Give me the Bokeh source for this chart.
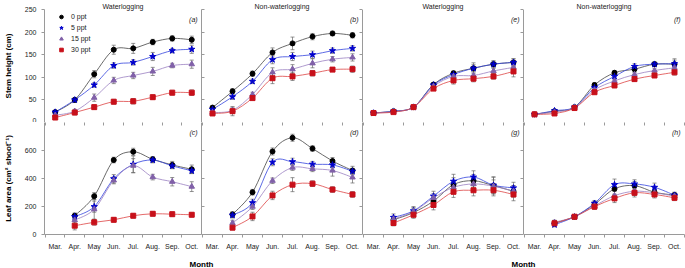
import numpy as np
from bokeh.plotting import figure
from bokeh.models import (Range1d, FixedTicker, LinearAxis, ColumnDataSource, Whisker,
                          TeeHead, Legend, LegendItem, Label)
from bokeh.layouts import column, row
from bokeh.embed import file_html
from bokeh.resources import INLINE
from bokeh.core.properties import value

# ---------------- data ----------------
stem_months = [3, 4, 5, 6, 7, 8, 9, 10]
leaf_months = [4, 5, 6, 7, 8, 9, 10]
month_names = ["Mar.", "Apr.", "May", "Jun.", "Jul.", "Aug.", "Sep.", "Oct."]
treatments = ["0 ppt", "5 ppt", "15 ppt", "30 ppt"]
stem_ticks = [0, 50, 100, 150, 200, 250]
leaf_ticks = [0, 200, 400, 600]

# (a) stem height, waterlogging (left block)
a_0 = [23, 50, 107, 161, 164, 178, 186, 183]
a_5 = [23, 50, 83, 126, 133, 146, 159, 162]
a_15 = [16, 25, 55, 93, 104, 113, 126, 129]
a_30 = [11, 22, 34, 46, 47, 56, 66, 66]
a_0_se = [3, 4, 8, 10, 11, 6, 6, 8]
a_5_se = [3, 5, 5, 6, 6, 9, 5, 9]
a_15_se = [3, 4, 8, 7, 7, 9, 5, 9]
a_30_se = [4, 5, 5, 5, 6, 5, 5, 6]

# (b) stem height, non-waterlogging (left block)
b_0 = [33, 69, 108, 155, 175, 190, 197, 193]
b_5 = [29, 57, 91, 139, 146, 150, 159, 164]
b_15 = [22, 27, 62, 111, 118, 131, 140, 144]
b_30 = [20, 25, 54, 98, 102, 109, 117, 118]
b_0_se = [3, 6, 6, 10, 14, 7, 5, 6]
b_5_se = [3, 6, 5, 9, 9, 8, 6, 6]
b_15_se = [3, 7, 5, 10, 10, 10, 6, 8]
b_30_se = [3, 10, 4, 12, 9, 6, 4, 7]

# (e) stem height, waterlogging (right block)
e_0 = [21, 25, 34, 84, 109, 120, 129, 133]
e_5 = [21, 25, 34, 83, 106, 120, 129, 133]
e_15 = [21, 24, 34, 80, 102, 104, 114, 122]
e_30 = [21, 23, 34, 75, 93, 97, 102, 113]
e_0_se = [2, 2, 2, 4, 5, 12, 8, 8]
e_5_se = [2, 2, 2, 4, 5, 8, 6, 8]
e_15_se = [2, 2, 2, 4, 6, 8, 6, 8]
e_30_se = [2, 2, 2, 4, 8, 7, 6, 12]

# (f) stem height, non-waterlogging (right block)
f_0 = [18, 25, 34, 83, 110, 118, 129, 129]
f_5 = [18, 26, 34, 77, 102, 124, 129, 130]
f_15 = [18, 23, 33, 72, 92, 106, 115, 121]
f_30 = [18, 20, 32, 67, 82, 96, 104, 111]
f_0_se = [2, 2, 3, 5, 5, 8, 5, 12]
f_5_se = [2, 2, 2, 4, 5, 6, 5, 8]
f_15_se = [2, 2, 2, 4, 5, 6, 5, 6]
f_30_se = [2, 2, 2, 4, 5, 5, 4, 6]

# (c) leaf area, waterlogging (left block)
c_0 = [134, 274, 532, 591, 537, 497, 466]
c_5 = [127, 199, 398, 501, 532, 490, 455]
c_15 = [103, 180, 387, 492, 410, 377, 342]
c_30 = [63, 87, 105, 134, 148, 145, 141]
c_0_se = [20, 25, 20, 25, 20, 25, 30]
c_5_se = [20, 40, 30, 60, 20, 20, 20]
c_15_se = [20, 70, 25, 50, 20, 30, 35]
c_30_se = [30, 20, 15, 15, 15, 15, 15]

# (d) leaf area, non-waterlogging (left block)
d_0 = [143, 302, 593, 691, 614, 525, 457]
d_5 = [138, 227, 516, 520, 502, 497, 452]
d_15 = [82, 199, 384, 478, 469, 457, 408]
d_30 = [49, 129, 279, 356, 363, 321, 286]
d_0_se = [20, 20, 25, 25, 20, 25, 30]
d_5_se = [20, 25, 25, 25, 20, 20, 20]
d_15_se = [20, 20, 20, 20, 20, 40, 40]
d_30_se = [15, 30, 30, 50, 20, 20, 20]

# (g) leaf area, waterlogging (right block)
g_0 = [105, 157, 239, 356, 384, 349, 309]
g_5 = [122, 169, 274, 380, 410, 352, 333]
g_15 = [110, 164, 262, 337, 361, 345, 309]
g_30 = [82, 141, 211, 305, 316, 316, 286]
g_0_se = [25, 30, 35, 50, 45, 60, 40]
g_5_se = [25, 30, 35, 50, 45, 60, 40]
g_15_se = [20, 30, 30, 45, 40, 45, 40]
g_30_se = [20, 25, 35, 40, 40, 40, 45]

# (h) leaf area, non-waterlogging (right block)
h_0 = [82, 127, 216, 326, 349, 302, 281]
h_5 = [70, 127, 223, 356, 361, 337, 281]
h_15 = [87, 127, 204, 277, 309, 298, 274]
h_30 = [80, 127, 199, 258, 298, 286, 262]
h_0_se = [15, 10, 20, 40, 30, 30, 20]
h_5_se = [15, 10, 20, 40, 30, 30, 20]
h_15_se = [15, 10, 20, 30, 30, 25, 20]
h_30_se = [15, 10, 20, 30, 30, 25, 20]

# ---------------- style ----------------
FONT = "Liberation Sans"
AXIS_COLOR = "#9a9a9a"
TEXT_COLOR = "#222222"
marker_colors = ["#000000", "#0000cc", "#8060a8", "#c8101a"]
line_colors = ["#444444", "#3344dd", "#9a80c2", "#dd4444"]
markers = ["circle", "star", "triangle", "square"]
marker_sizes = [5, 6.5, 5.5, 5]
ERR_COLOR = "#666666"

FRAME_W = 161
FRAME_H = 114
LEFT_BORDER = 40
TOP_BORDER = 8
BOTTOM_BORDER = 16
STRIP_H = 16
XMIN, XMAX = 2.45, 10.5
half_ticks = [m - 0.5 for m in stem_months] + [stem_months[-1] + 0.5]
label_map = {m: n for m, n in zip(stem_months, month_names)}


def hide_labels(ax):
    ax.major_label_text_color = None
    ax.major_label_text_alpha = 0
    ax.major_label_text_font_size = "0px"
    ax.major_label_standoff = 0


def smooth(p, xs, ys, color):
    x = np.asarray(xs, float)
    y = np.asarray(ys, float)
    n = len(x)
    xp = np.concatenate([[x[0]], x, [x[-1]]])
    yp = np.concatenate([[y[0]], y, [y[-1]]])
    cx0 = x[:-1] + (xp[2:n + 1] - xp[0:n - 1]) / 6.0
    cy0 = y[:-1] + (yp[2:n + 1] - yp[0:n - 1]) / 6.0
    cx1 = x[1:] - (xp[3:n + 2] - xp[1:n]) / 6.0
    cy1 = y[1:] - (yp[3:n + 2] - yp[1:n]) / 6.0
    p.bezier(x0=x[:-1], y0=y[:-1], x1=x[1:], y1=y[1:], cx0=cx0, cy0=cy0,
             cx1=cx1, cy1=cy1, line_color=color, line_width=0.8)


def panel(col, top_row, ymax, yticks, title, tag, months, series, errors, legend=False):
    left = col == 0
    right_extra = 1 if col == 3 else 0
    w = FRAME_W + (LEFT_BORDER if left else 0) + right_extra
    h = FRAME_H + (TOP_BORDER if top_row else BOTTOM_BORDER)
    p = figure(width=w, height=h, x_range=Range1d(XMIN, XMAX), y_range=Range1d(0, ymax),
               toolbar_location=None, output_backend="svg",
               min_border_left=LEFT_BORDER if left else 0, min_border_right=right_extra,
               min_border_top=TOP_BORDER if top_row else 0,
               min_border_bottom=0 if top_row else BOTTOM_BORDER,
               outline_line_color=None, background_fill_color="white",
               border_fill_color="white")
    p.xgrid.visible = False
    p.ygrid.visible = False

    if top_row:
        p.title.text = title
        p.title.align = "center"
        p.title.text_font = FONT
        p.title.text_font_size = "7px"
        p.title.text_font_style = "normal"
        p.title.text_color = TEXT_COLOR
        p.title.standoff = 0
        p.title.offset = 0

    xa = p.xaxis[0]
    xa.ticker = FixedTicker(ticks=stem_months, minor_ticks=half_ticks)
    xa.axis_line_color = AXIS_COLOR
    xa.major_tick_line_color = AXIS_COLOR
    xa.minor_tick_line_color = AXIS_COLOR
    xa.major_tick_in = 0
    xa.major_tick_out = 0
    xa.minor_tick_in = 0
    if top_row:
        xa.minor_tick_out = 0
        hide_labels(xa)
    else:
        xa.minor_tick_out = 3
        xa.major_label_overrides = label_map
        xa.major_label_text_font = FONT
        xa.major_label_text_font_size = "7px"
        xa.major_label_text_color = TEXT_COLOR
        xa.major_label_standoff = 5
        top_ax = LinearAxis(ticker=FixedTicker(ticks=stem_months, minor_ticks=half_ticks),
                            axis_line_color=None, major_tick_in=0, major_tick_out=0,
                            minor_tick_in=3, minor_tick_out=0,
                            minor_tick_line_color=AXIS_COLOR)
        hide_labels(top_ax)
        p.add_layout(top_ax, "above")

    ya = p.yaxis[0]
    ya.ticker = FixedTicker(ticks=yticks)
    ya.axis_line_color = AXIS_COLOR
    ya.major_tick_line_color = AXIS_COLOR
    ya.minor_tick_line_color = None
    if left:
        ya.major_tick_out = 3
        ya.major_tick_in = 0
        ya.major_label_text_font = FONT
        ya.major_label_text_font_size = "7px"
        ya.major_label_text_color = TEXT_COLOR
        ya.major_label_standoff = 5
        ya.axis_label = "Stem height (cm)" if top_row else "Leaf area (cm² shoot⁻¹)"
        ya.axis_label_text_font = FONT
        ya.axis_label_text_font_size = "8px"
        ya.axis_label_text_font_style = "bold"
        ya.axis_label_text_color = "#000000"
        ya.axis_label_standoff = 9
    else:
        ya.major_tick_out = 0
        ya.major_tick_in = 3 if col == 1 else 0
        hide_labels(ya)
    if col in (1, 2):
        r_ax = LinearAxis(ticker=FixedTicker(ticks=yticks), axis_line_color=None,
                          major_tick_in=3, major_tick_out=0, minor_tick_line_color=None,
                          major_tick_line_color=AXIS_COLOR)
        hide_labels(r_ax)
        p.add_layout(r_ax, "right")

    items = []
    for i, (ys, es) in enumerate(zip(series, errors)):
        smooth(p, months, ys, line_colors[i])
        ys_a = np.asarray(ys, float)
        es_a = np.asarray(es, float)
        src = ColumnDataSource(dict(x=months, upper=ys_a + es_a, lower=ys_a - es_a))
        wk = Whisker(base="x", upper="upper", lower="lower", source=src,
                     line_color=ERR_COLOR, line_width=0.7,
                     upper_head=TeeHead(size=4, line_color=ERR_COLOR, line_width=0.7),
                     lower_head=TeeHead(size=4, line_color=ERR_COLOR, line_width=0.7))
        p.add_layout(wk)
    for i, ys in enumerate(series):
        sc = p.scatter(months, ys, marker=markers[i], size=marker_sizes[i],
                       fill_color=marker_colors[i], line_color=marker_colors[i])
        if legend:
            ln = p.line([], [], line_color=line_colors[i], line_width=0.8)
            items.append(LegendItem(label=treatments[i], renderers=[ln, sc]))

    if legend:
        lg = Legend(items=items, location=(6, FRAME_H - 49), background_fill_alpha=0,
                    border_line_alpha=0, label_text_font=FONT, label_text_font_size="7px",
                    label_text_color=TEXT_COLOR, label_height=10, glyph_height=9,
                    glyph_width=16, spacing=1, padding=3, margin=0, label_standoff=2)
        p.add_layout(lg)

    px_x = (XMAX - XMIN) / FRAME_W
    px_y = ymax / FRAME_H
    p.add_layout(Label(x=XMAX - 4 * px_x, y=ymax - 7 * px_y, text=tag,
                       text_font=FONT, text_font_size="7px", text_font_style="italic",
                       text_color=TEXT_COLOR, text_align="right", text_baseline="top"))
    return p


pa = panel(0, True, 250, stem_ticks, "Waterlogging", "(a)", stem_months,
           [a_0, a_5, a_15, a_30], [a_0_se, a_5_se, a_15_se, a_30_se], legend=True)
pb = panel(1, True, 250, stem_ticks, "Non-waterlogging", "(b)", stem_months,
           [b_0, b_5, b_15, b_30], [b_0_se, b_5_se, b_15_se, b_30_se])
pe = panel(2, True, 250, stem_ticks, "Waterlogging", "(e)", stem_months,
           [e_0, e_5, e_15, e_30], [e_0_se, e_5_se, e_15_se, e_30_se])
pf = panel(3, True, 250, stem_ticks, "Non-waterlogging", "(f)", stem_months,
           [f_0, f_5, f_15, f_30], [f_0_se, f_5_se, f_15_se, f_30_se])
pc = panel(0, False, 800, leaf_ticks, "", "(c)", leaf_months,
           [c_0, c_5, c_15, c_30], [c_0_se, c_5_se, c_15_se, c_30_se])
pd = panel(1, False, 800, leaf_ticks, "", "(d)", leaf_months,
           [d_0, d_5, d_15, d_30], [d_0_se, d_5_se, d_15_se, d_30_se])
pg = panel(2, False, 800, leaf_ticks, "", "(g)", leaf_months,
           [g_0, g_5, g_15, g_30], [g_0_se, g_5_se, g_15_se, g_30_se])
ph = panel(3, False, 800, leaf_ticks, "", "(h)", leaf_months,
           [h_0, h_5, h_15, h_30], [h_0_se, h_5_se, h_15_se, h_30_se])

TOTAL_W = LEFT_BORDER + 4 * FRAME_W + 1
strip = figure(width=TOTAL_W, height=STRIP_H, x_range=Range1d(0, TOTAL_W),
               y_range=Range1d(0, STRIP_H), toolbar_location=None, output_backend="svg",
               min_border=0, outline_line_color=None, x_axis_type=None, y_axis_type=None)
strip.text(x=[LEFT_BORDER + FRAME_W, LEFT_BORDER + 3 * FRAME_W], y=[4.5, 4.5],
           text=["Month", "Month"], text_font=value(FONT), text_font_size="8px",
           text_font_style="bold", text_color="#000000", text_align="center",
           text_baseline="middle")

layout = column(row(pa, pb, pe, pf), row(pc, pd, pg, ph), strip)

with open("out.html", "w") as fh:
    fh.write(file_html(layout, INLINE))
